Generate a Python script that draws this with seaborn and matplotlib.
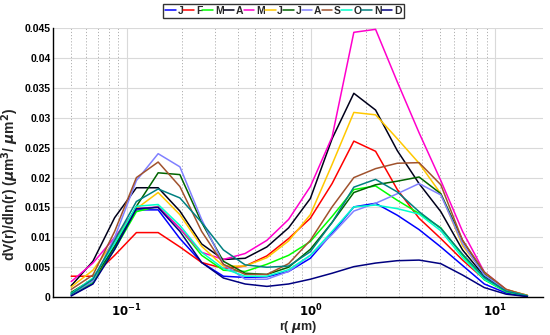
import numpy as np
import pandas as pd
import matplotlib
matplotlib.use("Agg")
import matplotlib.pyplot as plt
import seaborn as sns
from matplotlib.ticker import LogLocator, NullFormatter, FixedLocator

radius = [0.05, 0.0656, 0.0861, 0.113, 0.1483, 0.1946, 0.2554, 0.3352, 0.4399,
          0.5774, 0.7578, 0.9944, 1.3051, 1.7128, 2.2479, 2.9502, 3.8719,
          5.0815, 6.6691, 8.7527, 11.4872, 15.0]

jan = [0.3, 2.3, 8.5, 14.6, 14.6, 9.8, 5.8, 3.5, 3.3, 3.4, 4.3, 6.5, 10.7, 15.1, 15.7, 13.7, 11.3, 8.4, 5.3, 2.2, 0.7, 0.1]
feb = [3.5, 3.5, 7.0, 10.8, 10.8, 8.4, 5.8, 4.8, 5.2, 6.9, 9.8, 13.2, 19.0, 26.1, 24.4, 18.0, 13.2, 9.8, 6.2, 3.0, 1.1, 0.2]
mar = [0.5, 2.5, 8.0, 14.3, 15.2, 11.5, 7.0, 4.5, 4.3, 5.5, 7.0, 9.3, 13.5, 18.0, 18.6, 16.2, 14.0, 11.6, 7.0, 2.9, 0.9, 0.2]
apr = [1.9, 6.0, 13.3, 18.3, 18.3, 14.4, 8.9, 6.3, 6.5, 8.4, 11.6, 16.5, 26.5, 34.1, 31.3, 24.5, 19.0, 14.3, 7.9, 3.5, 1.2, 0.3]
may = [2.6, 5.7, 10.0, 14.8, 15.1, 11.5, 7.5, 6.3, 7.3, 9.5, 13.0, 18.5, 26.8, 44.3, 44.8, 36.0, 27.5, 19.5, 11.0, 4.2, 1.3, 0.2]
jun = [1.7, 4.5, 9.5, 14.8, 17.5, 13.8, 8.5, 5.2, 5.2, 6.6, 9.4, 13.8, 22.2, 30.9, 30.5, 26.5, 22.4, 17.3, 8.6, 4.0, 1.3, 0.3]
jul = [0.8, 3.0, 8.5, 15.2, 20.8, 20.5, 12.5, 6.0, 4.0, 3.8, 5.0, 8.0, 12.5, 17.5, 18.8, 19.4, 20.1, 17.3, 9.5, 3.8, 1.2, 0.2]
aug = [0.5, 2.7, 10.0, 19.5, 24.0, 21.8, 13.0, 5.5, 3.0, 3.0, 4.3, 7.0, 10.5, 14.4, 15.7, 17.3, 19.0, 17.1, 9.0, 3.7, 1.2, 0.2]
sep = [1.3, 3.7, 11.0, 20.0, 22.6, 18.5, 11.0, 5.5, 3.8, 3.8, 5.6, 9.5, 15.1, 20.0, 21.5, 22.4, 22.5, 18.8, 9.5, 4.2, 1.3, 0.2]
oct_ = [0.6, 3.2, 9.0, 15.2, 15.5, 12.0, 7.5, 4.8, 3.5, 3.5, 4.6, 7.0, 11.0, 15.1, 15.4, 14.8, 13.9, 11.1, 6.6, 3.0, 1.0, 0.2]
nov = [0.5, 3.0, 9.5, 16.0, 18.1, 16.6, 12.5, 7.9, 5.4, 5.0, 5.2, 7.6, 12.5, 18.4, 19.7, 17.6, 14.3, 11.5, 7.2, 3.3, 1.0, 0.2]
dec = [0.2, 2.2, 8.0, 14.8, 15.0, 11.0, 5.8, 3.2, 2.2, 1.8, 2.2, 3.0, 4.0, 5.1, 5.7, 6.1, 6.2, 5.6, 3.7, 1.6, 0.5, 0.1]

months = ["Jan", "Feb", "Mar", "Apr", "May", "Jun", "Jul", "Aug", "Sep", "Oct", "Nov", "Dec"]
legend_labels = ["J", "F", "M", "A", "M", "J", "J", "A", "S", "O", "N", "D"]
series = [jan, feb, mar, apr, may, jun, jul, aug, sep, oct_, nov, dec]
colors = ["#0000FF", "#FF0000", "#00FF00", "#00001A", "#FF00CC", "#FFC800",
          "#006400", "#8080FF", "#A0522D", "#00FFCC", "#008080", "#000080"]

frames = []
for m, vals in zip(months, series):
    frames.append(pd.DataFrame({"r": radius, "dv": np.array(vals) / 1000.0, "month": m}))
df = pd.concat(frames, ignore_index=True)

sns.set_style("white")
plt.rcParams["font.family"] = ["Liberation Sans", "DejaVu Sans"]
plt.rcParams["font.weight"] = "bold"
plt.rcParams["mathtext.fontset"] = "dejavusans"

fig = plt.figure(figsize=(5.5, 3.35), dpi=100)
ax = fig.add_axes([0.097, 0.113, 0.89, 0.803])

palette = dict(zip(months, colors))
sns.lineplot(data=df, x="r", y="dv", hue="month", hue_order=months, palette=palette,
             linewidth=1.1, ax=ax, legend=False, sort=False)

ax.set_xscale("log")
ax.set_xlim(0.04, 18.2)
ax.set_ylim(0, 0.045)
ax.set_yticks(np.arange(0, 0.0451, 0.005))
ax.set_yticklabels(["0", "0.005", "0.01", "0.015", "0.02", "0.025", "0.03", "0.035", "0.04", "0.045"],
                   fontsize=7.5, fontweight="bold")
ax.xaxis.set_major_locator(FixedLocator([0.1, 1, 10]))
ax.set_xticklabels([r"$\mathbf{10^{-1}}$", r"$\mathbf{10^{0}}$", r"$\mathbf{10^{1}}$"], fontsize=8.5)
ax.xaxis.set_minor_locator(LogLocator(base=10, subs=np.arange(2, 10)))
ax.xaxis.set_minor_formatter(NullFormatter())

ax.grid(True, which="major", axis="both", color="#d9d9d9", linewidth=0.8, linestyle="-")
ax.grid(True, which="minor", axis="x", color="#b0b0b0", linewidth=0.7, linestyle=(0, (1.2, 2)))
ax.set_axisbelow(True)

ax.tick_params(axis="both", which="major", direction="in", length=3, width=0.8, colors="black")
ax.tick_params(axis="y", labelsize=7.5, pad=2)
ax.tick_params(axis="x", labelsize=8.5, pad=4)
ax.tick_params(axis="x", which="minor", direction="in", length=2, width=0.6)
for s in ["top", "right"]:
    ax.spines[s].set_visible(False)
for s in ["left", "bottom"]:
    ax.spines[s].set_color("black")
    ax.spines[s].set_linewidth(1.0)

ax.set_xlabel(r"r( $\mu$m)", fontsize=9, fontweight="bold", labelpad=0)
ax.set_ylabel(r"dV(r)/dln(r) ($\mu$m$^3$/ $\mu$m$^2$)", fontsize=10, fontweight="bold", labelpad=1)
ax.yaxis.set_label_coords(-0.066, 0.42)

handles = [plt.Line2D([], [], color=c, linewidth=1.1) for c in colors]
leg = fig.legend(handles, legend_labels, loc="upper center", bbox_to_anchor=(0.515, 0.995),
                 ncol=12, frameon=True, fancybox=False, fontsize=7.5,
                 handlelength=1.05, handletextpad=0.15, columnspacing=0.0,
                 borderpad=0.2, borderaxespad=0.2)
leg.get_frame().set_edgecolor("black")
leg.get_frame().set_linewidth(1.0)
for t in leg.get_texts():
    t.set_fontweight("bold")

fig.savefig("out.png", dpi=100)
